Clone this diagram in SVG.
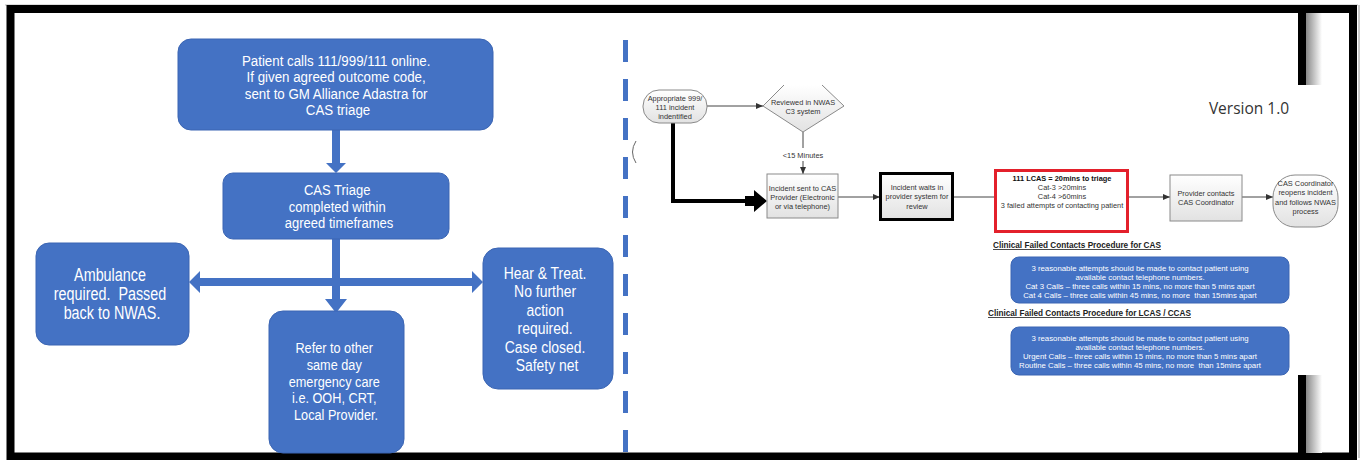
<svg xmlns="http://www.w3.org/2000/svg" width="1362" height="460" viewBox="0 0 1362 460">
<style>
.bx{fill:#4472C4;stroke:#3B65B3;stroke-width:1}
.lt{font-family:"Liberation Sans",Arial,sans-serif;fill:#fff;text-anchor:middle}
.rt{font-family:"Liberation Sans",Arial,sans-serif;fill:#333;font-size:7.4px;text-anchor:middle}
.gb{fill:url(#gg);stroke:#8a8a8a;stroke-width:1}
.cn{stroke:#444;stroke-width:1;fill:none}
.ar{fill:#4472C4}
.hd{font-family:"Liberation Sans",Arial,sans-serif;font-size:8.2px;font-weight:bold;fill:#222;text-decoration:underline}
.bt{font-family:"Liberation Sans",Arial,sans-serif;font-size:7.8px;fill:#fff;text-anchor:middle}
</style>
<defs>
<linearGradient id="gg" x1="0" y1="0" x2="0" y2="1"><stop offset="0" stop-color="#ffffff"/><stop offset="1" stop-color="#e2e2e2"/></linearGradient>
<linearGradient id="sh" x1="0" y1="0" x2="1" y2="0"><stop offset="0" stop-color="#888"/><stop offset="1" stop-color="#fff"/></linearGradient>
<marker id="ah" markerWidth="7" markerHeight="6" refX="7" refY="3" orient="auto" markerUnits="userSpaceOnUse"><path d="M0,0 L7,3 L0,6 z" fill="#333"/></marker>
</defs>
<rect width="1362" height="460" fill="#fff"/>
<!-- frame -->
<line x1="5" y1="5" x2="1358" y2="5" stroke="#bbb" stroke-width="1"/>
<line x1="1359" y1="5" x2="1359" y2="458" stroke="#ccc" stroke-width="2"/>
<rect x="10.5" y="9" width="1342.5" height="447.5" fill="none" stroke="#000" stroke-width="8"/>
<rect x="1306" y="13" width="16" height="72" fill="url(#sh)"/>
<rect x="1298" y="13" width="8" height="72" fill="#000"/>
<rect x="1306" y="375" width="16" height="78" fill="url(#sh)"/>
<rect x="1298" y="375" width="8" height="78" fill="#000"/>
<!-- divider -->
<line x1="625.5" y1="40" x2="625.5" y2="452" stroke="#4472C4" stroke-width="5" stroke-dasharray="22 17"/>
<path d="M636,141 Q629,152 636,163" fill="none" stroke="#666" stroke-width="1"/>

<!-- LEFT connectors -->
<g id="left-connectors">
<polygon class="ar" points="332,130 340,130 340,163 346,163 336,173 326,163 332,163"/>
<rect class="ar" x="332" y="238" width="8" height="44"/>
<polygon class="ar" points="189,282 200,271 200,278 472,278 472,271 483,282 472,293 472,286 200,286 200,293"/>
<polygon class="ar" points="332,284 340,284 340,299 347,299 336,313 325,299 332,299"/>
</g>

<g id="patient-calls">
<rect class="bx" x="178" y="39" width="315" height="91" rx="13"/>
<g transform="translate(338,0) scale(0.86,1)"><text class="lt" font-size="15.5">
<tspan x="0" y="66">Patient calls 111/999/111 online.</tspan>
<tspan x="0" y="82.5">If given agreed outcome code,</tspan>
<tspan x="0" y="99">sent to GM Alliance Adastra for</tspan>
<tspan x="0" y="115.5">CAS triage</tspan></text></g>
</g>
<g id="cas-triage">
<rect class="bx" x="223" y="173" width="226" height="66" rx="10"/>
<g transform="translate(339,0) scale(0.84,1)"><text class="lt" font-size="15.5">
<tspan x="0" y="195.5">CAS Triage</tspan>
<tspan x="0" y="212">completed within</tspan>
<tspan x="0" y="228.5">agreed timeframes</tspan></text></g>
</g>
<g id="ambulance">
<rect class="bx" x="36" y="243" width="153" height="102" rx="13"/>
<g transform="translate(112,0) scale(0.82,1)"><text class="lt" font-size="17.5">
<tspan x="0" y="281">Ambulance</tspan>
<tspan x="0" y="300">required.&#160; Passed</tspan>
<tspan x="0" y="319">back to NWAS.</tspan></text></g>
</g>
<g id="refer">
<rect class="bx" x="269" y="311" width="135" height="142" rx="14"/>
<g transform="translate(336,0) scale(0.82,1)"><text class="lt" font-size="15.5">
<tspan x="0" y="353.5">Refer to other</tspan>
<tspan x="0" y="370">same day</tspan>
<tspan x="0" y="387">emergency care</tspan>
<tspan x="0" y="403.5">i.e. OOH, CRT,</tspan>
<tspan x="0" y="420.5">Local Provider.</tspan></text></g>
</g>
<g id="hear-treat">
<rect class="bx" x="483" y="248" width="130" height="141" rx="15"/>
<g transform="translate(547,0) scale(0.82,1)"><text class="lt" font-size="17">
<tspan x="0" y="279">Hear &amp; Treat.</tspan>
<tspan x="0" y="297.5">No further</tspan>
<tspan x="0" y="316">action</tspan>
<tspan x="0" y="334.5">required.</tspan>
<tspan x="0" y="353">Case closed.</tspan>
<tspan x="0" y="371">Safety net</tspan></text></g>
</g>

<!-- RIGHT connectors -->
<g id="right-connectors">
<line class="cn" x1="707" y1="106" x2="763" y2="106" marker-end="url(#ah)"/>
<line class="cn" x1="803" y1="132" x2="803" y2="148"/>
<line class="cn" x1="803" y1="161" x2="803" y2="174" marker-end="url(#ah)"/>
<path d="M673,123 V201 H748" fill="none" stroke="#000" stroke-width="4"/>
<polygon points="745,196 754,196 754,190 767,201 754,212 754,206 745,206" fill="#000"/>
<line class="cn" x1="838" y1="197" x2="880" y2="197" marker-end="url(#ah)"/>
<line class="cn" x1="953" y1="197" x2="995" y2="197"/>
<line class="cn" x1="1128" y1="197" x2="1170" y2="197" marker-end="url(#ah)"/>
<line class="cn" x1="1242" y1="197" x2="1273" y2="197" marker-end="url(#ah)"/>
<text class="rt" x="803" y="157.5">&lt;15 Minutes</text>
</g>

<g id="appropriate">
<rect class="gb" x="643" y="90" width="64" height="33" rx="16"/>
<text class="rt"><tspan x="675" y="100.5">Appropriate 999/</tspan><tspan x="675" y="109.5">111 incident</tspan><tspan x="675" y="118.5">indentified</tspan></text>
</g>
<g id="reviewed">
<polygon points="784,85 763,106 803,132 844,106 822,85" fill="url(#gg)"/>
<polyline points="784,85 763,106 803,132 844,106 822,85" fill="none" stroke="#8a8a8a" stroke-width="1"/>
<text class="rt"><tspan x="803" y="104.5">Reviewed in NWAS</tspan><tspan x="803" y="113.5">C3 system</tspan></text>
</g>
<g id="sent-to-cas">
<rect class="gb" x="767" y="174" width="71" height="44"/>
<text class="rt"><tspan x="802.5" y="190.5">Incident sent to CAS</tspan><tspan x="802.5" y="199.5">Provider (Electronic</tspan><tspan x="802.5" y="208.5">or via telephone)</tspan></text>
</g>
<g id="waits">
<rect x="880.5" y="173.5" width="72" height="46" fill="url(#gg)" stroke="#000" stroke-width="3"/>
<text class="rt"><tspan x="917" y="189.5">Incident waits in</tspan><tspan x="917" y="199">provider system for</tspan><tspan x="917" y="208.5">review</tspan></text>
</g>
<g id="lcas">
<rect x="995.5" y="170.5" width="132" height="61" fill="#fff" stroke="#E3202B" stroke-width="3"/>
<text class="rt"><tspan x="1062" y="180.5" font-weight="bold" fill="#111">111 LCAS = 20mins to triage</tspan><tspan x="1062" y="189.5">Cat-3 &gt;20mins</tspan><tspan x="1062" y="198.5">Cat-4 &gt;60mins</tspan><tspan x="1062" y="207.5">3 failed attempts of contacting patient</tspan></text>
</g>
<g id="provider-contacts">
<rect class="gb" x="1170" y="175" width="72" height="46"/>
<text class="rt"><tspan x="1206" y="195.5">Provider contacts</tspan><tspan x="1206" y="205">CAS Coordinator</tspan></text>
</g>
<g id="coordinator">
<rect class="gb" x="1273" y="175" width="65" height="52" rx="22"/>
<text class="rt"><tspan x="1305.5" y="185.5">CAS Coordinator</tspan><tspan x="1305.5" y="195">reopens incident</tspan><tspan x="1305.5" y="204.5">and follows NWAS</tspan><tspan x="1305.5" y="214">process</tspan></text>
</g>
<g id="version">
<text x="1249" y="114" font-family="'Open Sans','Liberation Sans',sans-serif" font-size="15.5" fill="#333" text-anchor="middle">Version 1.0</text>
</g>
<g id="cas-procedure">
<text class="hd" x="993" y="248">Clinical Failed Contacts Procedure for CAS</text>
<rect class="bx" x="1011" y="257" width="278" height="46" rx="8"/>
<text class="bt"><tspan x="1140" y="270.5">3 reasonable attempts should be made to contact patient using</tspan><tspan x="1140" y="279.5">available contact telephone numbers.</tspan><tspan x="1140" y="289">Cat 3 Calls – three calls within 15 mins, no more than 5 mins apart</tspan><tspan x="1140" y="298">Cat 4 Calls – three calls within 45 mins, no more&#160; than 15mins apart</tspan></text>
</g>
<g id="lcas-procedure">
<text class="hd" x="988" y="316">Clinical Failed Contacts Procedure for LCAS / CCAS</text>
<rect class="bx" x="1011" y="327" width="278" height="48" rx="8"/>
<text class="bt"><tspan x="1140" y="340.5">3 reasonable attempts should be made to contact patient using</tspan><tspan x="1140" y="349.5">available contact telephone numbers.</tspan><tspan x="1140" y="358.5">Urgent Calls – three calls within 15 mins, no more than 5 mins apart</tspan><tspan x="1140" y="367.5">Routine Calls – three calls within 45 mins, no more&#160; than 15mins apart</tspan></text>
</g>
</svg>
